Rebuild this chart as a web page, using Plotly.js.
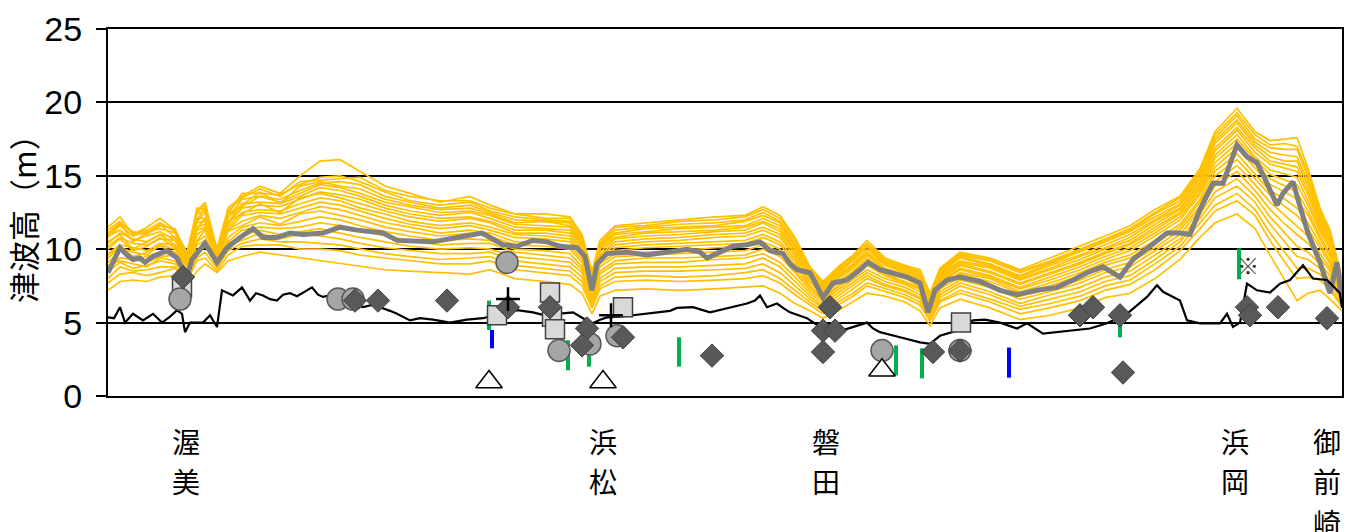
<!DOCTYPE html>
<html>
<head>
<meta charset="utf-8">
<script src="https://cdn.plot.ly/plotly-3.0.1.min.js"></script>
<style>html,body{margin:0;padding:0;background:#fff;}#chart{width:1348px;height:532px;}</style>
</head>
<body>
<div id="chart"></div>
<script>
// Position along the coast (chart units), shared by the scenario curves
const xOrange = [108,120,133,147,160,175,187,197,205,217,228,242,260,280,300,320,340,360,385,410,440,470,490,515,545,570,582,592,600,615,645,680,715,745,763,780,795,810,823,838,853,867,885,905,920,930,940,960,990,1020,1050,1080,1105,1130,1155,1180,1200,1215,1237,1255,1270,1285,1297,1308,1320,1330,1342];

// Tsunami height scenarios (orange)
const case01 = [11.5,12.2,11.0,11.5,12.1,11.3,9.8,12.6,13.2,10.0,12.8,13.6,14.3,13.8,15.0,16.0,16.1,15.3,14.3,13.8,13.2,13.6,13.0,12.4,12.4,12.2,11.0,8.5,10.6,11.6,11.8,12.0,12.2,12.3,12.9,12.3,10.8,8.8,7.8,8.8,9.6,10.6,9.4,8.9,8.6,7.0,8.7,9.8,9.4,8.6,9.4,10.2,10.9,11.6,12.7,13.6,15.5,18.0,19.6,18.0,17.4,17.5,17.6,15.5,12.8,11.3,8.0];
const case02 = [11.0,11.7,11.2,11.0,11.6,11.4,9.5,12.8,12.7,9.8,12.4,13.8,13.8,13.7,14.4,14.9,15.0,14.6,13.9,13.3,13.0,13.2,12.6,12.2,12.0,11.9,10.7,8.3,10.3,11.3,11.5,11.7,11.8,12.0,12.5,11.9,10.5,8.6,7.6,8.6,9.4,10.3,9.2,8.7,8.4,6.8,8.5,9.6,9.2,8.4,9.1,9.9,10.6,11.3,12.4,13.3,15.2,17.6,19.1,17.5,16.9,16.8,16.8,14.9,12.4,11.0,7.8];
const case03 = [11.1,11.8,10.5,11.1,11.7,10.8,9.6,12.0,12.8,9.9,12.4,13.0,13.9,13.1,14.3,14.6,14.3,14.1,13.4,13.0,12.7,12.8,12.4,11.8,11.9,11.6,10.4,8.1,10.1,11.0,11.2,11.4,11.5,11.6,12.1,11.6,10.2,8.4,7.4,8.4,9.2,10.2,9.0,8.5,8.2,6.7,8.3,9.4,8.9,8.1,8.9,9.6,10.3,11.0,12.0,13.0,14.8,17.2,18.6,17.1,16.3,16.0,16.0,14.3,12.0,10.6,7.7];
const case04 = [10.4,11.1,10.7,10.5,11.0,10.8,9.2,12.1,12.1,9.6,11.8,13.1,13.2,13.1,13.6,14.2,14.0,13.6,13.0,12.6,12.3,12.5,12.1,11.5,11.4,11.3,10.2,7.9,9.8,10.7,10.9,11.0,11.2,11.3,11.8,11.2,9.9,8.2,7.3,8.2,8.9,9.8,8.9,8.4,8.0,6.5,8.1,9.1,8.7,7.9,8.6,9.3,10.0,10.6,11.7,12.7,14.5,16.7,18.1,16.6,15.8,15.5,15.3,13.7,11.6,10.3,7.5];
const case05 = [10.5,11.0,10.0,10.5,11.0,10.3,9.3,11.4,12.1,9.6,11.9,12.4,13.1,12.5,13.5,13.8,13.5,13.1,12.6,12.2,11.9,12.1,11.8,11.1,11.1,10.9,9.8,7.7,9.5,10.3,10.5,10.6,10.8,10.9,11.3,10.8,9.5,8.0,7.1,8.0,8.7,9.6,8.6,8.2,7.8,6.4,7.9,8.9,8.4,7.6,8.3,9.0,9.7,10.3,11.3,12.4,14.1,16.2,17.5,16.1,15.1,14.7,14.4,13.0,11.2,10.0,7.4];
const case06 = [9.7,10.3,10.1,9.9,10.4,10.3,8.9,11.3,11.5,9.3,11.3,12.3,12.5,12.4,12.8,13.2,13.0,12.6,12.1,11.7,11.4,11.6,11.3,10.8,10.7,10.5,9.5,7.4,9.2,9.9,10.1,10.2,10.3,10.4,10.8,10.3,9.1,7.7,6.9,7.7,8.4,9.2,8.4,8.0,7.5,6.2,7.7,8.6,8.1,7.3,7.9,8.6,9.3,9.9,10.9,12.0,13.7,15.6,16.9,15.5,14.4,13.9,13.4,12.3,10.7,9.5,7.2];
const case07 = [9.6,10.2,9.5,9.8,10.2,9.8,8.8,10.6,11.3,9.3,11.2,11.6,12.2,11.7,12.4,12.6,12.3,12.0,11.5,11.2,10.9,11.1,10.9,10.3,10.2,10.0,9.1,7.1,8.8,9.5,9.6,9.7,9.8,9.9,10.3,9.8,8.6,7.4,6.6,7.4,8.1,8.9,8.2,7.7,7.3,6.0,7.4,8.3,7.8,7.0,7.5,8.2,8.9,9.4,10.4,11.5,13.2,15.0,16.1,14.8,13.7,12.9,12.3,11.4,10.1,9.0,6.9];
const case08 = [8.7,9.4,9.3,9.1,9.5,9.6,8.4,10.3,10.6,8.9,10.5,11.3,11.5,11.4,11.5,11.8,11.6,11.3,10.9,10.6,10.3,10.4,10.4,9.8,9.6,9.4,8.6,6.8,8.3,9.0,9.1,9.1,9.3,9.4,9.7,9.1,8.1,7.0,6.3,7.0,7.7,8.4,7.8,7.4,6.9,5.7,7.1,7.9,7.4,6.6,7.1,7.7,8.4,8.8,9.9,11.0,12.7,14.3,15.3,14.0,12.7,11.7,11.0,10.4,9.4,8.5,6.7];
const case09 = [8.5,9.1,8.7,8.9,9.2,9.0,8.3,9.6,10.2,8.9,10.3,10.6,11.1,10.7,11.0,10.9,10.7,10.4,10.1,9.9,9.7,9.7,9.8,9.2,9.0,8.8,8.1,6.4,7.8,8.4,8.5,8.5,8.6,8.7,9.0,8.4,7.5,6.6,6.0,6.6,7.3,8.0,7.5,7.1,6.6,5.4,6.7,7.5,6.9,6.1,6.6,7.1,7.8,8.2,9.3,10.5,12.1,13.5,14.3,13.2,11.7,10.5,9.5,9.3,8.7,7.9,6.4];
const case10 = [7.7,8.3,8.4,8.2,8.4,8.7,7.8,9.2,9.4,8.5,9.6,10.2,10.3,10.3,10.0,10.0,9.9,9.6,9.4,9.2,9.0,9.0,9.2,8.6,8.4,8.2,7.5,6.0,7.3,7.8,7.9,7.8,7.9,8.0,8.2,7.7,6.9,6.2,5.6,6.2,6.8,7.5,7.1,6.7,6.2,5.1,6.4,7.0,6.4,5.6,6.0,6.5,7.2,7.6,8.6,9.9,11.4,12.6,13.3,12.3,10.6,9.1,8.0,8.1,7.9,7.2,6.1];
const case11 = [7.2,7.8,7.9,7.8,8.1,8.2,7.6,8.5,9.0,8.4,9.2,9.5,9.8,9.6,9.4,9.2,9.0,8.8,8.6,8.5,8.4,8.3,8.6,8.0,7.8,7.6,7.0,5.6,6.8,7.2,7.3,7.2,7.3,7.4,7.5,7.0,6.3,5.8,5.3,5.8,6.4,7.0,6.8,6.4,5.8,4.8,6.0,6.6,6.0,5.2,5.5,6.0,6.7,7.0,8.0,9.3,10.8,11.8,12.4,11.4,9.6,7.9,6.5,7.0,7.2,6.6,5.8];
const case12 = [11.3,11.9,11.1,11.3,11.8,11.2,9.7,12.5,13.0,9.9,12.6,13.5,14.1,13.6,14.6,14.7,14.8,14.9,14.0,13.6,13.3,13.3,12.8,12.4,12.1,12.1,10.9,8.4,10.4,11.5,11.6,11.9,12.0,12.2,12.7,12.1,10.7,8.7,7.7,8.7,9.5,10.4,9.3,8.8,8.5,6.9,8.6,9.7,9.3,8.5,9.2,10.0,10.7,11.4,12.5,13.5,15.3,17.8,19.3,17.8,17.1,17.2,17.0,15.2,12.6,11.2,7.9];
const case13 = [10.8,11.6,10.9,11.2,11.4,11.1,9.4,12.4,12.6,9.7,12.1,13.4,13.6,13.4,14.0,14.5,14.6,14.4,13.6,13.2,12.8,13.0,12.5,12.0,11.9,11.8,10.5,8.2,10.2,11.1,11.4,11.5,11.6,11.9,12.3,11.8,10.3,8.5,7.5,8.5,9.3,10.2,9.1,8.6,8.3,6.7,8.4,9.5,9.0,8.2,9.0,9.8,10.5,11.2,12.2,13.1,15.0,17.4,18.8,17.3,16.6,16.4,16.3,14.6,12.2,10.8,7.7];
const case14 = [10.9,11.3,10.6,10.9,11.2,10.6,9.5,11.9,12.5,9.7,12.2,12.9,13.6,13.2,13.8,14.4,14.2,13.8,13.2,12.9,12.5,12.6,12.3,11.7,11.6,11.5,10.3,8.0,10.0,10.8,11.1,11.2,11.3,11.5,11.9,11.4,10.0,8.3,7.3,8.3,9.0,10.0,9.0,8.5,8.1,6.6,8.2,9.2,8.8,8.0,8.7,9.5,10.1,10.8,11.9,12.8,14.6,16.9,18.3,16.9,16.0,15.8,15.6,14.0,11.8,10.5,7.6];
const case15 = [10.2,10.8,10.4,10.3,10.7,10.6,9.1,11.8,11.9,9.5,11.7,12.8,13.0,12.9,13.4,13.9,13.7,13.4,12.8,12.4,12.1,12.2,11.9,11.3,11.3,11.1,10.0,7.8,9.6,10.5,10.7,10.8,11.0,11.1,11.5,11.0,9.7,8.1,7.2,8.1,8.8,9.7,8.7,8.3,7.9,6.5,8.0,9.0,8.5,7.7,8.4,9.1,9.8,10.4,11.5,12.5,14.3,16.4,17.8,16.3,15.4,15.1,14.9,13.3,11.4,10.1,7.4];
const case16 = [10.0,10.7,9.9,10.2,10.8,10.1,9.1,11.5,11.7,9.5,11.5,12.5,12.7,12.6,13.1,13.5,13.3,12.8,12.4,11.9,11.6,11.8,11.5,11.0,10.9,10.7,9.6,7.5,9.3,10.1,10.3,10.4,10.5,10.6,11.0,10.5,9.3,7.8,7.0,7.8,8.5,9.4,8.5,8.1,7.6,6.3,7.8,8.7,8.2,7.4,8.1,8.8,9.5,10.1,11.1,12.2,13.9,15.9,17.2,15.8,14.8,14.3,13.9,12.6,10.9,9.7,7.3];
const case17 = [9.4,10.1,9.8,9.6,10.3,10.0,8.9,11.0,11.4,9.2,11.3,11.9,12.3,12.1,12.5,12.9,12.7,12.3,11.8,11.5,11.1,11.3,11.1,10.5,10.5,10.2,9.3,7.3,9.0,9.7,9.8,9.9,10.1,10.2,10.5,10.0,8.9,7.5,6.7,7.5,8.2,9.0,8.3,7.8,7.4,6.1,7.5,8.4,8.0,7.1,7.7,8.4,9.1,9.6,10.6,11.7,13.4,15.3,16.5,15.1,14.0,13.4,12.8,11.8,10.4,9.2,7.0];
const case18 = [9.1,9.9,9.3,9.5,9.8,9.6,8.6,10.5,10.9,9.1,10.8,11.5,11.8,11.6,11.9,12.2,12.0,11.6,11.2,10.9,10.6,10.7,10.6,10.0,9.9,9.7,8.8,7.0,8.5,9.2,9.4,9.4,9.5,9.6,10.0,9.5,8.4,7.2,6.5,7.2,7.9,8.6,8.0,7.6,7.1,5.8,7.3,8.1,7.6,6.8,7.3,7.9,8.6,9.1,10.1,11.3,12.9,14.6,15.7,14.4,13.2,12.3,11.6,10.9,9.7,8.7,6.8];
const case19 = [8.9,9.2,9.0,8.8,9.4,9.2,8.2,9.9,10.4,8.8,10.4,10.9,11.3,11.0,11.2,11.4,11.1,10.8,10.5,10.2,10.0,10.1,10.0,9.5,9.3,9.1,8.4,6.6,8.0,8.7,8.8,8.8,8.9,9.0,9.4,8.8,7.8,6.8,6.1,6.8,7.5,8.2,7.6,7.2,6.7,5.5,6.9,7.7,7.1,6.3,6.9,7.4,8.1,8.5,9.6,10.7,12.4,13.9,14.8,13.6,12.2,11.1,10.2,9.8,9.0,8.2,6.5];
const case20 = [8.0,8.8,8.5,8.6,8.8,8.8,8.1,9.4,9.8,8.7,9.9,10.4,10.7,10.5,10.5,10.4,10.3,10.0,9.7,9.5,9.3,9.4,9.5,8.9,8.7,8.5,7.8,6.2,7.5,8.1,8.2,8.1,8.2,8.4,8.6,8.0,7.2,6.4,5.8,6.4,7.0,7.7,7.3,6.9,6.4,5.3,6.5,7.2,6.6,5.9,6.3,6.8,7.5,7.9,9.0,10.2,11.8,13.0,13.8,12.7,11.1,9.8,8.7,8.7,8.3,7.5,6.2];

// Mean curve (gray)
const xMean = [108,120,127,133,140,145,153,167,177,187,192,205,217,227,240,253,263,277,290,303,323,340,357,370,383,397,420,433,457,482,490,503,517,533,547,560,577,585,592,597,607,627,647,667,687,700,707,720,733,747,760,770,783,790,797,810,823,833,847,860,868,880,893,907,920,928,935,947,960,980,1000,1017,1037,1057,1073,1087,1103,1120,1133,1153,1167,1180,1190,1200,1213,1223,1237,1247,1257,1267,1277,1283,1293,1300,1308,1320,1330,1337,1342];
const yMean = [8.4,10.1,9.6,9.3,9.4,9.1,9.5,9.9,9.4,8.1,9.3,10.4,9.1,10.1,10.8,11.4,10.8,10.8,11.1,11.0,11.1,11.5,11.3,11.2,11.1,10.6,10.5,10.5,10.8,11.1,10.8,10.3,10.2,10.6,10.5,10.2,10.1,9.5,7.2,9.0,9.7,9.8,9.6,9.8,10.0,9.8,9.4,9.8,10.2,10.3,10.5,9.9,9.7,9.0,8.6,8.4,6.7,7.7,7.9,8.6,9.1,8.6,8.4,8.1,7.7,5.7,7.2,7.9,8.1,7.8,7.2,6.9,7.2,7.4,7.9,8.4,8.8,8.1,9.3,10.4,11.1,11.1,11.0,12.7,14.5,14.5,17.1,16.3,15.9,14.5,13.0,13.8,14.6,12.9,11.1,9.1,7.0,9.1,6.5];

// Ground / levee height (black)
const xGround = [108,114,120,125,133,143,153,162,170,177,182,185,190,203,210,217,222,233,242,250,256,263,270,277,283,290,297,303,312,318,323,333,343,353,363,372,380,390,397,410,420,433,450,467,483,500,517,533,545,557,573,583,593,600,607,620,633,647,660,670,677,693,710,730,747,755,760,767,777,783,790,807,820,837,853,867,873,880,900,920,930,940,957,973,985,1000,1017,1027,1043,1067,1090,1107,1127,1147,1157,1163,1170,1180,1187,1200,1220,1227,1233,1240,1247,1257,1270,1280,1290,1303,1313,1327,1340,1342];
const yGround = [5.35,5.3,6.05,5.0,5.6,5.15,5.6,5.0,5.4,5.85,5.6,4.35,5.0,5.0,5.5,4.7,7.2,6.85,7.4,6.5,7.0,6.85,6.6,6.5,6.9,7.0,6.8,7.05,7.4,6.9,6.75,6.9,6.5,6.3,6.05,6.2,6.05,5.8,5.6,5.15,5.3,5.2,5.0,5.2,5.3,5.6,5.85,5.7,5.5,5.6,5.7,5.3,4.95,5.2,5.35,5.4,5.5,5.6,5.7,5.8,6.0,6.05,5.7,6.0,6.3,6.5,6.85,6.05,6.3,6.0,5.7,5.3,4.7,4.35,4.7,5.0,4.6,4.35,4.0,3.65,3.55,4.1,4.45,5.15,5.2,5.0,4.6,4.95,4.25,4.45,4.6,4.95,5.6,6.75,7.55,7.1,6.85,6.5,5.15,4.95,4.95,5.6,4.7,5.0,7.65,7.2,7.05,7.65,7.9,8.9,8.0,7.9,7.0,6.0];

// Historical records
const diamondX = [183,355,378,447,508,550,587,582,623,712,830,823,835,823,933,960,1080,1093,1120,1123,1247,1250,1278,1327];
const diamondY = [8.1,6.5,6.5,6.5,6.05,6.05,4.6,3.45,4.0,2.75,6.05,4.45,4.45,3.0,3.0,3.1,5.5,6.05,5.5,1.6,6.05,5.5,6.05,5.3];
const circleX = [180,338,353,507,559,590,617,882,960];
const circleY = [6.6,6.6,6.6,9.1,3.1,3.55,4.1,3.1,3.1];
const squareX = [182,497,550,552,555,623,961];
const squareY = [7.4,5.5,7.05,5.4,4.55,6.05,5.0];
const triangleX = [489,603,882];
const triangleY = [0.95,0.95,1.75];
const plusX = [508,611];
const plusY = [6.6,5.5];
const greenX = [489,568,589,679,896,922,1120,1239];
const greenLow = [4.5,1.75,2.0,2.0,1.4,1.2,4.0,7.95];
const greenHigh = [6.5,3.8,2.9,4.0,3.45,3.25,4.8,10.05];
const blueX = [492,1009];
const blueLow = [3.25,1.25];
const blueHigh = [4.5,3.3];
const noteX = [1248];
const noteY = [8.7];
const noteText = ['※'];

// Place names along the coast
const placeNames = ['渥美','浜松','磐田','浜岡','御前崎'];
const placeX = [186,603,826,1235,1327];

const yTickVals = [0,5,10,15,20,25];
const yTitle = '津波高（m）';

function fontAvailable(name){
  const c = document.createElement('canvas').getContext('2d');
  c.font = '40px monospace';
  const w1 = c.measureText('2580abcxyz').width;
  c.font = "40px '" + name + "', monospace";
  const w2 = c.measureText('2580abcxyz').width;
  return Math.abs(w1 - w2) > 0.5;
}
const narrow = fontAvailable('Liberation Sans Narrow');
const tickFont = narrow ? {family:'Liberation Sans Narrow', size:37, color:'#000'}
                        : {family:'Liberation Sans, Arial, sans-serif', size:34, color:'#000'};

const traces = [];
[case01,case02,case03,case04,case05,case06,case07,case08,case09,case10,case11,
 case12,case13,case14,case15,case16,case17,case18,case19,case20].forEach(function(c){
  traces.push({x:xOrange, y:c, type:'scatter', mode:'lines', line:{color:'#FFC000', width:1.7}, hoverinfo:'skip'});
});
traces.push({x:xMean, y:yMean, type:'scatter', mode:'lines', line:{color:'#808080', width:5}});
traces.push({x:xGround, y:yGround, type:'scatter', mode:'lines', line:{color:'#000000', width:2.2}});

function bars(xs, lo, hi, color){
  const bx = [], by = [];
  xs.forEach(function(v,i){ bx.push(v, v, null); by.push(lo[i], hi[i], null); });
  return {x:bx, y:by, type:'scatter', mode:'lines', line:{color:color, width:4}};
}
traces.push(bars(greenX, greenLow, greenHigh, '#00B050'));
traces.push(bars(blueX, blueLow, blueHigh, '#0000FF'));

traces.push({x:squareX, y:squareY, type:'scatter', mode:'markers', marker:{symbol:'square', size:19, color:'#D9D9D9', line:{color:'#404040', width:1.5}}});
traces.push({x:circleX, y:circleY, type:'scatter', mode:'markers', marker:{symbol:'circle', size:22, color:'#A6A6A6', line:{color:'#595959', width:1.5}}});
traces.push({x:diamondX, y:diamondY, type:'scatter', mode:'markers', marker:{symbol:'diamond', size:18, color:'#595959', line:{color:'#404040', width:1}}});
traces.push({x:triangleX, y:triangleY, type:'scatter', mode:'markers', marker:{symbol:'triangle-up', size:23, color:'#FFFFFF', line:{color:'#000000', width:1.5}}});
traces.push({x:plusX, y:plusY, type:'scatter', mode:'markers', marker:{symbol:'cross-thin-open', size:17, color:'#000000', line:{color:'#000000', width:2.5}}});
traces.push({x:noteX, y:noteY, type:'scatter', mode:'text', text:noteText, textfont:{size:22, color:'#333333', family:'Noto Sans CJK JP'}});

// Plot area geometry in pixels, used to place the annotations
const plotLeft = 108, plotWidth = 1234, plotBottom = 395.7, plotHeight = 366.7;
const annotations = [{
  xref:'paper', yref:'paper', x:(23 - plotLeft) / plotWidth, y:0.504, xanchor:'center', yanchor:'middle',
  text: yTitle, textangle:-90, showarrow:false, height:36, borderpad:0,
  font:{family:'Noto Sans CJK JP', size:31, color:'#000'}
}];
const charPitch = 40.5, firstCharCenter = 440;
placeNames.forEach(function(n,i){
  n.split('').forEach(function(ch, k){
    const cy = firstCharCenter + k * charPitch;
    annotations.push({
      xref:'x', yref:'paper', x:placeX[i], y:(plotBottom - cy) / plotHeight,
      xanchor:'center', yanchor:'middle', height:37, borderpad:0,
      text: ch, showarrow:false,
      font:{family:'Noto Sans CJK JP', size:28, color:'#000'}
    });
  });
});

const layout = {
  width:1348, height:532,
  margin:{l:108, r:6, t:29, b:136},
  paper_bgcolor:'#fff', plot_bgcolor:'#fff',
  showlegend:false,
  xaxis:{range:[108,1342], showticklabels:false, showgrid:false, zeroline:false, ticks:'',
         showline:true, linecolor:'#000', linewidth:2, mirror:true},
  yaxis:{range:[0,25], tickvals:yTickVals, showgrid:true, gridcolor:'#000', gridwidth:2, zeroline:false,
         ticks:'outside', ticklen:10, tickwidth:2, tickcolor:'#000', ticklabelstandoff:7,
         showline:true, linecolor:'#000', linewidth:2, mirror:true,
         tickfont:tickFont},
  annotations: annotations
};

Plotly.newPlot('chart', traces, layout, {staticPlot:true, displayModeBar:false});
</script>
</body>
</html>
